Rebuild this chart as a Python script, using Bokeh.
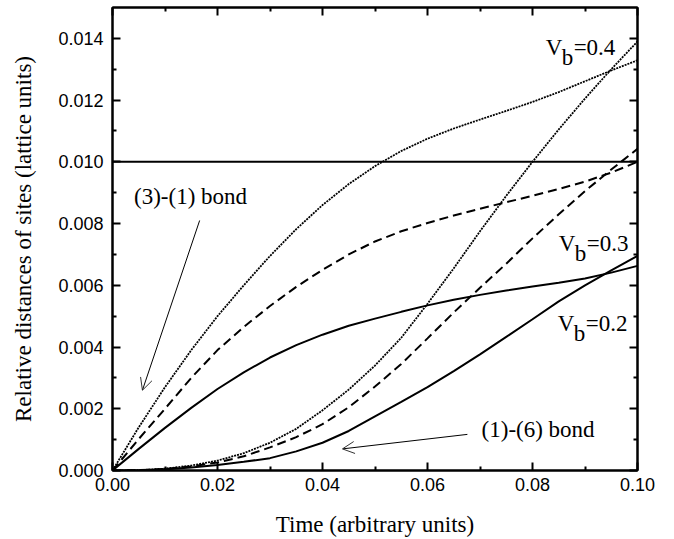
from bokeh.plotting import figure
from bokeh.models import (FixedTicker, PrintfTickFormatter, LinearAxis, Range1d,
                          Span, Arrow, OpenHead, ColumnDataSource, CustomJSTickFormatter)
from bokeh.core.properties import value
from bokeh.embed import file_html
from bokeh.resources import INLINE

# ---------------- data ----------------
time = [0.000, 0.005, 0.010, 0.015, 0.020, 0.025, 0.030, 0.035, 0.040, 0.045, 0.050,
        0.055, 0.060, 0.065, 0.070, 0.075, 0.080, 0.085, 0.090, 0.095, 0.100]

# (3)-(1) bond
bond31_vb02 = [0, 0.00070, 0.00138, 0.00203, 0.00264, 0.00318, 0.00366, 0.00406, 0.00440, 0.00469, 0.00492,
               0.00514, 0.00535, 0.00553, 0.00569, 0.00583, 0.00596, 0.00608, 0.00622, 0.00641, 0.00663]
bond31_vb03 = [0, 0.00102, 0.00200, 0.00300, 0.00390, 0.00465, 0.00533, 0.00595, 0.00650, 0.00700, 0.00742,
               0.00775, 0.00802, 0.00826, 0.00848, 0.00869, 0.00890, 0.00912, 0.00936, 0.00965, 0.01000]
bond31_vb04 = [0, 0.00140, 0.00270, 0.00390, 0.00500, 0.00600, 0.00695, 0.00782, 0.00860, 0.00928, 0.00986,
               0.01035, 0.01075, 0.01108, 0.01137, 0.01165, 0.01194, 0.01226, 0.01261, 0.01296, 0.01329]

# (1)-(6) bond
bond16_vb02 = [0, 0.00001, 0.00004, 0.00010, 0.00018, 0.00028, 0.00040, 0.00062, 0.00090, 0.00128, 0.00175,
               0.00222, 0.00270, 0.00322, 0.00376, 0.00433, 0.00490, 0.00548, 0.00600, 0.00648, 0.00695]
bond16_vb03 = [0, 0.00001, 0.00005, 0.00013, 0.00026, 0.00046, 0.00075, 0.00108, 0.00150, 0.00205, 0.00272,
               0.00345, 0.00428, 0.00512, 0.00592, 0.00670, 0.00752, 0.00830, 0.00905, 0.00975, 0.01042]
bond16_vb04 = [0, 0.00001, 0.00006, 0.00016, 0.00032, 0.00056, 0.00090, 0.00135, 0.00195, 0.00262, 0.00340,
               0.00430, 0.00540, 0.00655, 0.00775, 0.00890, 0.01000, 0.01105, 0.01205, 0.01300, 0.01390]

ref_level = 0.010

x_ticks = [0.00, 0.02, 0.04, 0.06, 0.08, 0.10]
x_minor = [0.01, 0.03, 0.05, 0.07, 0.09]
y_ticks = [0.000, 0.002, 0.004, 0.006, 0.008, 0.010, 0.012, 0.014]
y_minor = [0.001, 0.003, 0.005, 0.007, 0.009, 0.011, 0.013]

# annotation texts / anchors (data units)
vb_labels = ["=0.4", "=0.3", "=0.2"]
vb_x = [0.0825, 0.0850, 0.0848]
vb_y = [0.01371, 0.00737, 0.00476]

bond_labels = ["(3)-(1) bond", "(1)-(6) bond"]
bond_label_x = [0.0041, 0.0703]
bond_label_y = [0.00888, 0.00134]

arrow_31 = dict(x_start=0.0166, y_start=0.0081, x_end=0.0057, y_end=0.0026)
arrow_16 = dict(x_start=0.0676, y_start=0.00117, x_end=0.0438, y_end=0.00070)

SERIF = "Liberation Serif"
SANS = "Liberation Sans"

# ---------------- figure ----------------
p = figure(width=674, height=539,
           x_range=Range1d(0.0, 0.10), y_range=Range1d(0.0, 0.015),
           output_backend="svg", toolbar_location=None,
           min_border_left=112, min_border_right=37,
           min_border_top=7, min_border_bottom=69)
p.xgrid.visible = False
p.ygrid.visible = False
p.outline_line_color = "black"
p.outline_line_width = 2
p.background_fill_color = "white"
p.border_fill_color = "white"


def style_axis(ax, ticks, minor, fmt, labels=True):
    ax.ticker = FixedTicker(ticks=ticks, minor_ticks=minor)
    ax.major_tick_in = 8
    ax.major_tick_out = 0
    ax.minor_tick_in = 4
    ax.minor_tick_out = 0
    ax.major_tick_line_width = 2
    ax.minor_tick_line_width = 2
    ax.axis_line_width = 2
    ax.axis_line_color = "black"
    ax.major_tick_line_color = "black"
    ax.minor_tick_line_color = "black"
    if labels:
        ax.formatter = PrintfTickFormatter(format=fmt)
        ax.major_label_text_font = SANS
        ax.major_label_text_font_size = "18px"
        ax.major_label_text_color = "black"
        ax.axis_label_text_font = SERIF
        ax.axis_label_text_font_size = "23px"
        ax.axis_label_text_font_style = "normal"
        ax.axis_label_text_color = "black"
    else:
        ax.formatter = CustomJSTickFormatter(code="return ''")
        ax.major_label_standoff = 0
        ax.axis_label = None


xa = p.xaxis[0]
ya = p.yaxis[0]
style_axis(xa, x_ticks, x_minor, "%.2f")
style_axis(ya, y_ticks, y_minor, "%.3f")
xa.axis_label = "Time (arbitrary units)"
ya.axis_label = "Relative distances of sites (lattice units)"
xa.major_label_standoff = 7
ya.major_label_standoff = 9
xa.axis_label_standoff = 18
ya.axis_label_standoff = 19

top = LinearAxis()
style_axis(top, x_ticks, x_minor, "%.2f", labels=False)
p.add_layout(top, "above")
right = LinearAxis()
style_axis(right, y_ticks, y_minor, "%.3f", labels=False)
p.add_layout(right, "right")

# reference horizontal line
p.add_layout(Span(location=ref_level, dimension="width", line_color="black", line_width=2))

src = ColumnDataSource(dict(t=time,
                            a2=bond31_vb02, a3=bond31_vb03, a4=bond31_vb04,
                            b2=bond16_vb02, b3=bond16_vb03, b4=bond16_vb04))

solid = dict(line_color="black", line_width=2)
dashed = dict(line_color="black", line_width=2, line_dash="9 5")
dotted = dict(line_color="black", line_width=1.8, line_dash="2 1")

p.line("t", "a2", source=src, **solid)
p.line("t", "a3", source=src, **dashed)
p.line("t", "a4", source=src, **dotted)
p.line("t", "b2", source=src, **solid)
p.line("t", "b3", source=src, **dashed)
p.line("t", "b4", source=src, **dotted)

# V_b labels : "V" + subscript "b" + "=0.x"
p.text(x=vb_x, y=vb_y, text=["V"] * 3, text_font=value(SERIF), text_font_size="23px",
       text_baseline="alphabetic", text_align="left", text_color="black")
p.text(x=vb_x, y=vb_y, text=["b"] * 3, text_font=value(SERIF), text_font_size="23px",
       text_baseline="alphabetic", text_align="left", text_color="black",
       x_offset=16, y_offset=10)
p.text(x=vb_x, y=vb_y, text=vb_labels, text_font=value(SERIF), text_font_size="23px",
       text_baseline="alphabetic", text_align="left", text_color="black",
       x_offset=28)

# bond labels
p.text(x=bond_label_x, y=bond_label_y, text=bond_labels, text_font=value(SERIF),
       text_font_size="23px", text_baseline="middle", text_align="left", text_color="black")

for a in (arrow_31, arrow_16):
    p.add_layout(Arrow(end=OpenHead(size=12, line_width=1, line_color="#333333"),
                       line_color="black", line_width=1, **a))

open("out.html", "w").write(file_html(p, INLINE))
